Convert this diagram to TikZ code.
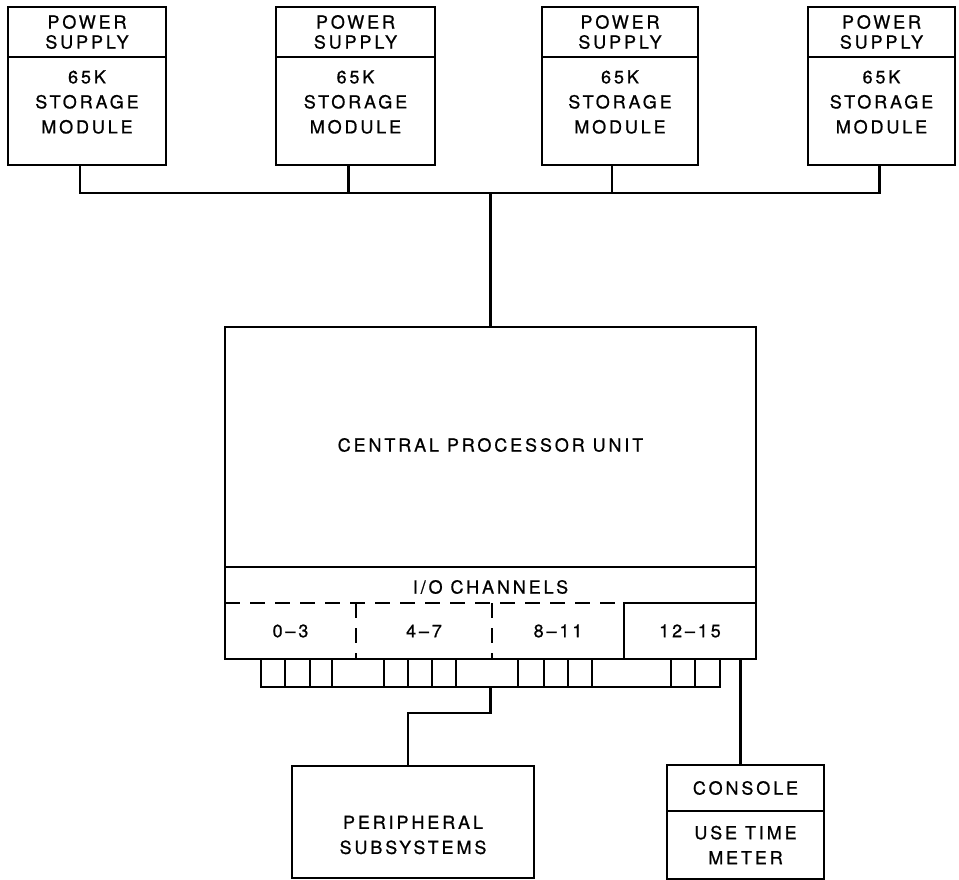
\documentclass[tikz,border=0pt]{standalone}
\usepackage{fontspec}
\usepackage{tikz}
\usetikzlibrary{positioning}
\newfontfamily\diagfont[LetterSpace=16, FakeBold=0.8]{TeX Gyre Heros}

\begin{document}
\begin{tikzpicture}[
    x=1pt, y=-1pt,
    font=\diagfont\fontsize{18}{25}\selectfont,
    every node/.style={inner sep=0pt, outer sep=0pt},
    psu/.style={draw, line width=2.2pt, minimum height=50pt, align=center},
    stor/.style={draw, line width=2.2pt, minimum height=108pt},
    unitbox/.style={draw, line width=2.2pt, align=center},
    chan/.style={minimum height=56pt},
    link/.style={line width=2.2pt},
    chdash/.style={line width=2.2pt, dash pattern=on 15pt off 10pt}
]
\useasboundingbox (0,0) rectangle (959,880);

% Power supplies and storage modules
\node[psu, minimum width=158pt] (ps1) at (87,32) {POWER\\[-5pt]SUPPLY};
\node[psu, minimum width=159pt] (ps2) at (355.5,32) {POWER\\[-5pt]SUPPLY};
\node[psu, minimum width=156pt] (ps3) at (620,32) {POWER\\[-5pt]SUPPLY};
\node[psu, minimum width=147pt] (ps4) at (881.5,32) {POWER\\[-5pt]SUPPLY};

\node[stor, minimum width=158pt, below=0pt of ps1,
      label={[align=center, yshift=9pt]center:65K\\STORAGE\\MODULE}] (sm1) {};
\node[stor, minimum width=159pt, below=0pt of ps2,
      label={[align=center, yshift=9pt]center:65K\\STORAGE\\MODULE}] (sm2) {};
\node[stor, minimum width=156pt, below=0pt of ps3,
      label={[align=center, yshift=9pt]center:65K\\STORAGE\\MODULE}] (sm3) {};
\node[stor, minimum width=147pt, below=0pt of ps4,
      label={[align=center, yshift=9pt]center:65K\\STORAGE\\MODULE}] (sm4) {};

% Central processor
\node[unitbox, minimum width=531pt, minimum height=332pt] (cpu) at (490.5,493) {};
\node (cpulbl) at (490.5,445) {CENTRAL PROCESSOR UNIT};

% I/O channels
\node[draw, line width=2.2pt, minimum width=531pt, minimum height=92pt] (io) at (490.5,613) {};
\node (iolbl) at (490.5,587) {I/O CHANNELS};
\node[chan, minimum width=131pt] (ch1) at (290.5,631) {0–3};
\node[chan, minimum width=136pt] (ch2) at (424,631) {4–7};
\node[chan, minimum width=132pt] (ch3) at (558,631) {8–11};
\node[unitbox, chan, minimum width=132pt] (ch4) at (690,631) {12–15};
\draw[chdash] (ch1.north west) -- ([xshift=-4pt]ch3.north east);
\draw[chdash] (ch1.north east) -- (ch1.south east);
\draw[chdash] (ch2.north east) -- (ch2.south east);

% Channel ports
\node[draw, line width=2.2pt, minimum width=459pt, minimum height=28pt] (ports) at (490.5,673) {};
\foreach \px in {24,49,71,123,147,171,195,257,283,307,331,410,434}
    \draw[link] (ports.north west) ++(\px,0) -- ++(0,28);

% Peripheral subsystems
\node[unitbox, minimum width=242pt, minimum height=112pt,
      label={[align=center, yshift=-13pt]center:PERIPHERAL\\SUBSYSTEMS}] (periph) at (413,822) {};

% Console
\node[unitbox, minimum width=157pt, minimum height=46pt] (console) at (745.5,788) {CONSOLE};
\node[unitbox, minimum width=157pt, minimum height=68pt, below=0pt of console] (meter) {USE TIME\\METER};

% Connections
\coordinate (bus) at (490.5,193);
\draw[link] ([xshift=-7pt]sm1.south) |- (bus);
\draw[link] ([xshift=-7pt]sm2.south) |- (bus);
\draw[link] ([xshift=-8pt]sm3.south) |- (bus);
\draw[link] ([xshift=-2pt]sm4.south) |- (bus);
\draw[link] (bus) -- (cpu.north);
\draw[link] (ports.south) -- ++(0,26) -| ([xshift=-5pt]periph.north);
\draw[link] ([xshift=-5pt]console.north) -- ([xshift=-5pt]console.north |- cpu.south);

\end{tikzpicture}
\end{document}
